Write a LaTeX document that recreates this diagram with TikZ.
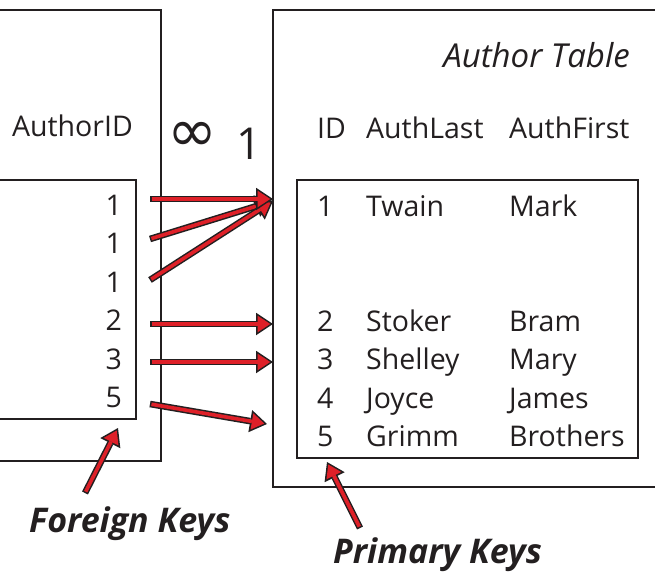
\documentclass[tikz,border=0pt]{standalone}
\usepackage{fontspec}
\setmainfont{Open Sans}
\newfontfamily\symfont{DejaVu Sans}
\usetikzlibrary{arrows.meta}

\definecolor{ink}{RGB}{35,31,32}
\definecolor{keyred}{RGB}{222,32,40}

\tikzset{
  cell/.style={inner sep=0pt, text=ink, font=\fontsize{28.5}{30}\selectfont},
  keylabel/.style={inner sep=0pt, text=ink, font=\fontsize{34}{36}\selectfont\bfseries\itshape},
  keyarrow/.style={draw=keyred, line width=3.6pt, shorten <=1.5pt, shorten >=2.8pt,
    -{Triangle[length=12.5pt,width=16.5pt,line width=0pt]},
    preaction={draw=ink, line width=6.6pt, shorten <=0pt, shorten >=0pt,
      -{Triangle[length=17pt,width=22.5pt,line width=0pt]}}}
}

\begin{document}
\begin{tikzpicture}[x=1pt,y=-1pt]
\useasboundingbox (0,0) rectangle (655,572);

% book table (left)
\draw[ink,line width=2pt] (-5,10) rectangle (161,461);
\draw[ink,line width=2pt] (-5,180) rectangle (136,419);

\node[cell,anchor=base east] (authid) at (133,137) {AuthorID};
\node[cell,anchor=base east] (fk1) at (122,215) {1};
\node[cell,anchor=base east] (fk2) at (122,253) {1};
\node[cell,anchor=base east] (fk3) at (122,292) {1};
\node[cell,anchor=base east] (fk4) at (122,330) {2};
\node[cell,anchor=base east] (fk5) at (122,369) {3};
\node[cell,anchor=base east] (fk6) at (122,407) {5};

% author table (right)
\draw[ink,line width=2pt] (273,10) rectangle (665,487);
\draw[ink,line width=2pt] (297,180) rectangle (638,458);

\node[cell,anchor=base east,font=\fontsize{33}{35}\selectfont\itshape] (title) at (630,68) {Author Table};
\node[cell,anchor=base west] (hid) at (317,139) {ID};
\node[cell,anchor=base west] (hlast) at (366,139) {AuthLast};
\node[cell,anchor=base west] (hfirst) at (509,139) {AuthFirst};

\node[cell,anchor=base west] (id1) at (317,216) {1};
\node[cell,anchor=base west] (last1) at (366,216) {Twain};
\node[cell,anchor=base west] (first1) at (509,216) {Mark};
\node[cell,anchor=base west] (id2) at (317,331) {2};
\node[cell,anchor=base west] (last2) at (366,331) {Stoker};
\node[cell,anchor=base west] (first2) at (509,331) {Bram};
\node[cell,anchor=base west] (id3) at (317,369) {3};
\node[cell,anchor=base west] (last3) at (366,369) {Shelley};
\node[cell,anchor=base west] (first3) at (509,369) {Mary};
\node[cell,anchor=base west] (id4) at (317,408) {4};
\node[cell,anchor=base west] (last4) at (366,408) {Joyce};
\node[cell,anchor=base west] (first4) at (509,408) {James};
\node[cell,anchor=base west] (id5) at (317,446) {5};
\node[cell,anchor=base west] (last5) at (366,446) {Grimm};
\node[cell,anchor=base west] (first5) at (509,446) {Brothers};

% cardinality
\node[cell,font=\fontsize{60}{62}\symfont] (many) at (192,137) {∞};
\node[cell,anchor=base east,font=\fontsize{44}{46}\selectfont] (one) at (262,160) {1};

% links
\coordinate (t1) at (150,199);
\coordinate (t2) at (150,239);
\coordinate (t3) at (150,280);
\coordinate (t4) at (150,324);
\coordinate (t5) at (150,362);
\coordinate (t6) at (150,404);
\coordinate (h1) at (273,199);
\coordinate (h2) at (273,201);
\coordinate (h4) at (273,324);
\coordinate (h5) at (273,362);
\coordinate (h6) at (267,424);

\draw[keyarrow] (t2) -- (h2);
\draw[keyarrow] (t3) -- (h2);
\draw[keyarrow] (t1) -- (h1);
\draw[keyarrow] (t4) -- (h4);
\draw[keyarrow] (t5) -- (h5);
\draw[keyarrow] (t6) -- (h6);

% key labels
\node[keylabel,anchor=base west] (fklabel) at (29,532) {Foreign Keys};
\node[keylabel,anchor=base west] (pklabel) at (333,563) {Primary Keys};
\coordinate (fktail) at (85,493);
\coordinate (fktip) at (118,428);
\coordinate (pktail) at (360,528);
\coordinate (pktip) at (327,462);
\draw[keyarrow] (fktail) -- (fktip);
\draw[keyarrow] (pktail) -- (pktip);
\end{tikzpicture}
\end{document}
